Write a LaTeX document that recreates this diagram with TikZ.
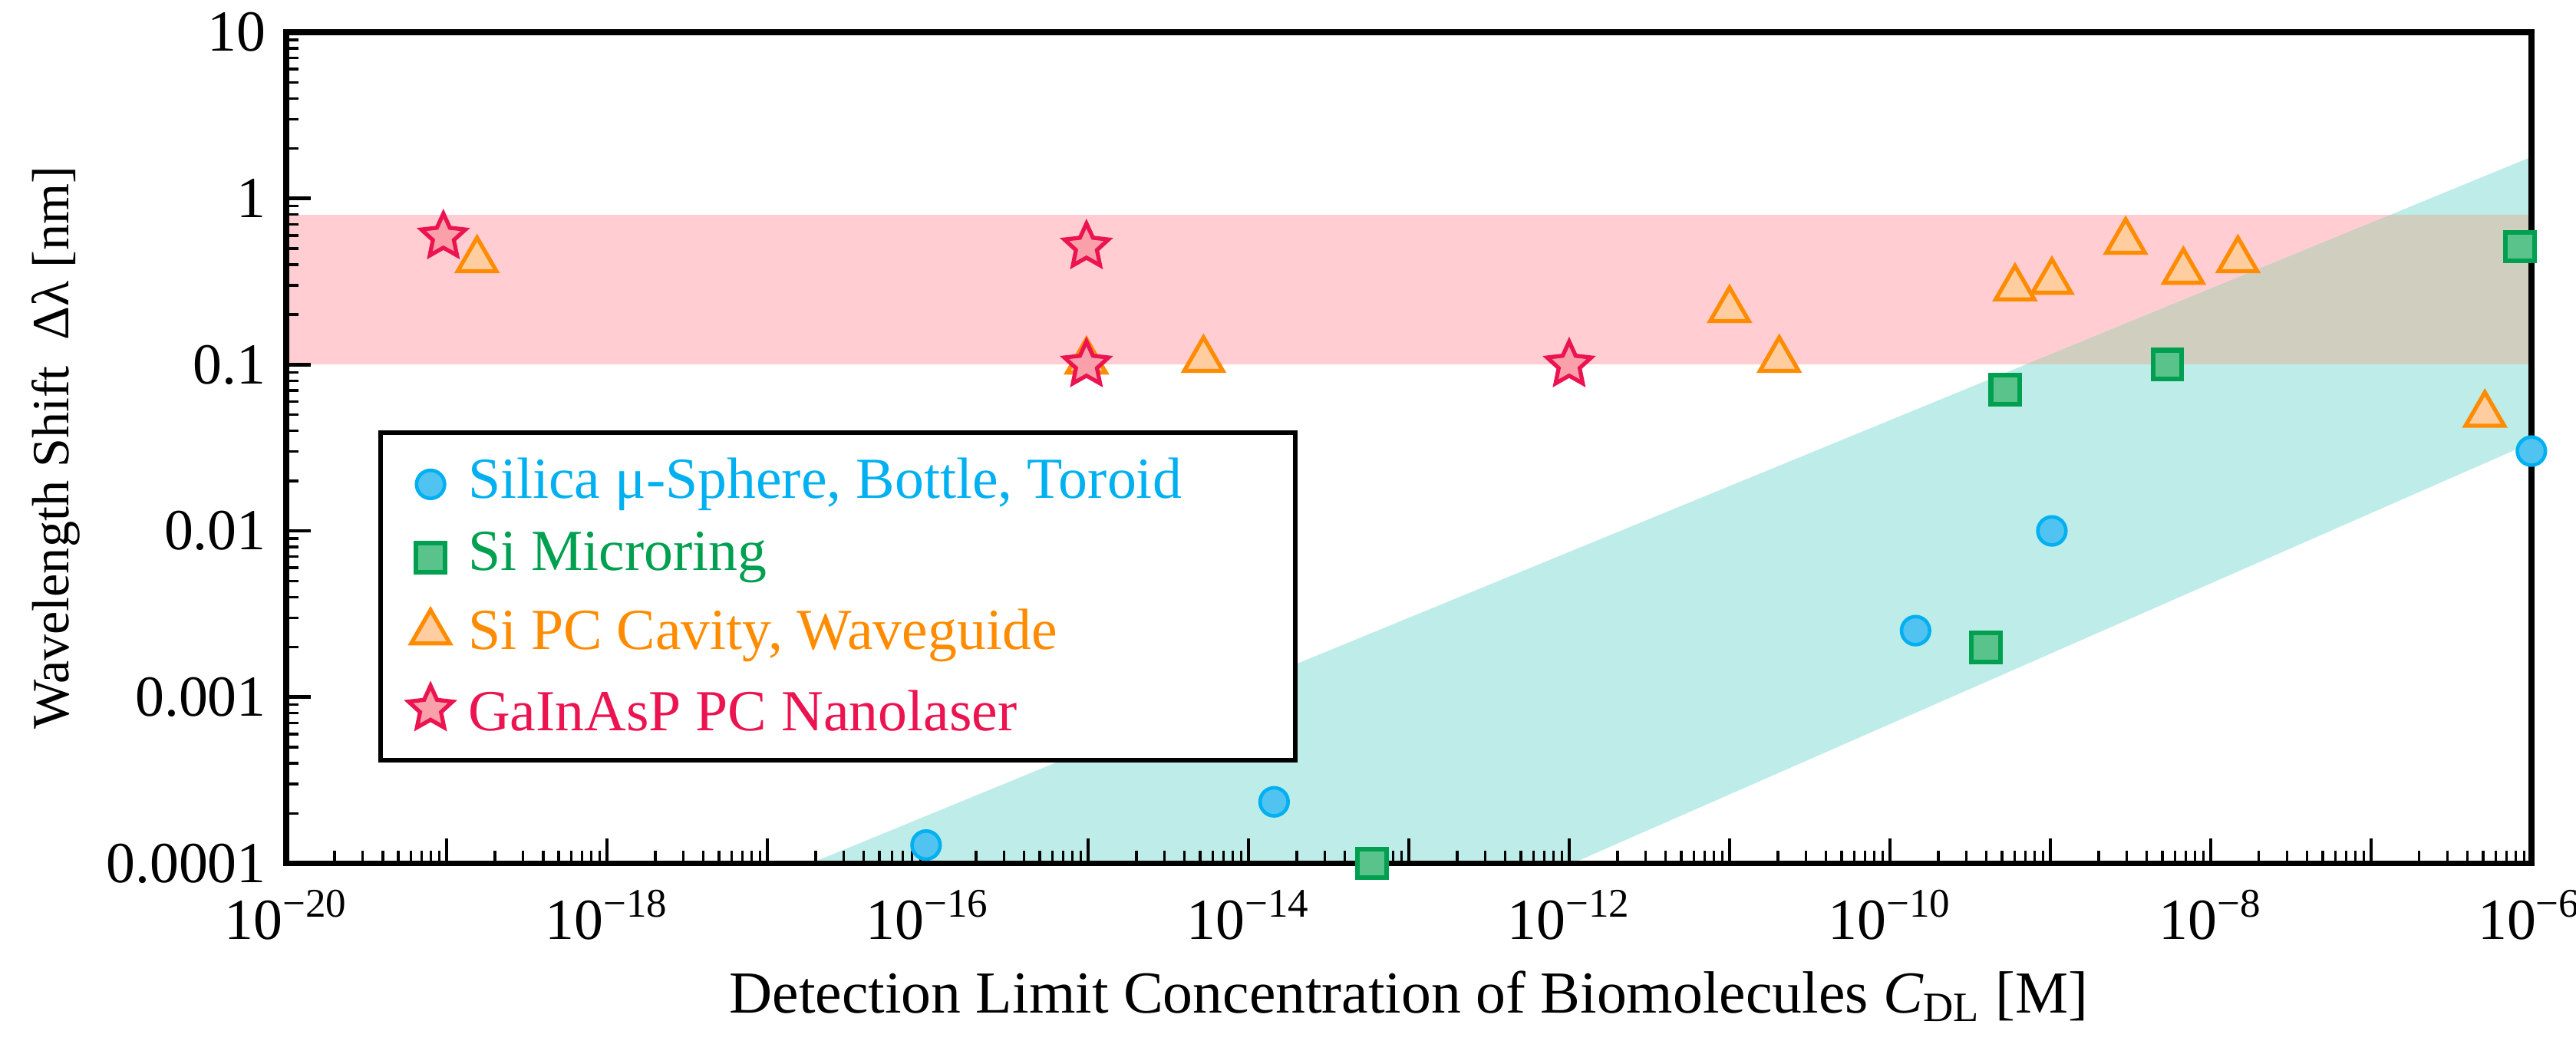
\documentclass[tikz,border=0pt]{standalone}
\usepackage{fontspec}
\setmainfont{Liberation Serif}
\usetikzlibrary{shapes.geometric}
\definecolor{cblue}{RGB}{0,176,240}
\definecolor{cbluef}{RGB}{80,195,240}
\definecolor{cgreen}{RGB}{0,160,80}
\definecolor{cgreenf}{RGB}{90,195,140}
\definecolor{corange}{RGB}{255,140,0}
\definecolor{corangef}{RGB}{255,205,160}
\definecolor{cred}{RGB}{235,20,80}
\definecolor{credf}{RGB}{250,160,170}
\definecolor{pinkband}{RGB}{255,205,210}
\definecolor{tealband}{RGB}{190,236,232}
\definecolor{mixband}{RGB}{208,206,190}
\tikzset{
  circ/.style={circle,draw=cblue,fill=cbluef,line width=1.2pt,minimum size=0.34cm,inner sep=0pt},
  sq/.style={rectangle,draw=cgreen,fill=cgreenf,line width=1.6pt,minimum size=0.35cm,inner sep=0pt},
  tri/.style={regular polygon,regular polygon sides=3,draw=corange,fill=corangef,line width=1.4pt,minimum size=0.54cm,inner sep=0pt},
  st/.style={star,star points=5,star point ratio=2.1,draw=cred,fill=credf,line width=1.4pt,minimum size=0.56cm,inner sep=0pt},
  lab/.style={font=\fontsize{20}{24}\selectfont},
}
\begin{document}
\begin{tikzpicture}[x=1.9386cm,y=2.01cm]
\useasboundingbox (-3.46cm,-2.30cm) rectangle (27.68cm,10.44cm);
% bands
\fill[pinkband] (0,3) rectangle (14,3.903);
\fill[tealband] (3.27,0) -- (14,4.25) -- (14,2.53) -- (8.02,0) -- cycle;
\begin{scope}
\clip (3.27,0) -- (14,4.25) -- (14,2.53) -- (8.02,0) -- cycle;
\fill[mixband] (0,3) rectangle (14,3.903);
\end{scope}
% ticks
\foreach \d in {0,...,13}{
  \draw[line width=1.2pt] (\d,0) -- ++(0,0.3cm);
  \foreach \m in {0.301,0.477,0.602,0.699,0.778,0.845,0.903,0.954}
    \draw[line width=0.9pt] (\d+\m,0) -- ++(0,0.15cm);
}
\foreach \d in {0,...,4}{
  \draw[line width=1.2pt] (0,\d) -- ++(0.3cm,0);
  \foreach \m in {0.301,0.477,0.602,0.699,0.778,0.845,0.903,0.954}
    \draw[line width=0.9pt] (0,\d+\m) -- ++(0.15cm,0);
}
\draw[line width=2pt] (0,0) rectangle (14,5);
% tick labels
\foreach \d/\e in {0/20,2/18,4/16,6/14,8/12,10/10,12/8}
  \node[lab,anchor=north] (xl\e) at (\d,-0.1) {10\textsuperscript{−\e}};
\node[lab,anchor=north east,inner xsep=1pt] (xl6) at (14.33,-0.1) {10\textsuperscript{−6}};
\foreach \d/\t [count=\i] in {0/0.0001,1/0.001,2/0.01,3/0.1,4/1,5/10}
  \node[lab,anchor=east] (yl\i) at (-0.12cm,\d) {\t};
\node[font=\fontsize{20.5}{24}\selectfont] (xlab) at (7,-0.8) {Detection Limit Concentration of Biomolecules \textit{C}\textsubscript{DL} [M]};
\node[font=\fontsize{18}{22}\selectfont,rotate=90] (ylab) at (-2.78cm,2.5) {Wavelength Shift\ \ Δλ [nm]};
% data
\node[circ] (c1) at (3.99,0.11) {};
\node[circ] (c2) at (6.16,0.37) {};
\node[circ] (c3) at (10.16,1.40) {};
\node[circ] (c4) at (11.01,2.0) {};
\node[circ] (c5) at (14.0,2.48) {};
\node[sq] (s1) at (6.77,0) {};
\node[sq] (s2) at (10.6,1.30) {};
\node[sq] (s3) at (10.72,2.85) {};
\node[sq] (s4) at (11.73,3.0) {};
\node[sq] (s5) at (13.93,3.71) {};
\node[tri] (t1) at (1.19,3.63) {};
\node[tri] (t2) at (4.99,3.02) {};
\node[tri] (t3) at (5.72,3.03) {};
\node[tri] (t4) at (9.0,3.33) {};
\node[tri] (t5) at (9.31,3.03) {};
\node[tri] (t6) at (10.78,3.46) {};
\node[tri] (t7) at (11.01,3.50) {};
\node[tri] (t8) at (11.47,3.74) {};
\node[tri] (t9) at (11.83,3.56) {};
\node[tri] (t10) at (12.17,3.63) {};
\node[tri] (t11) at (13.71,2.70) {};
\node[st] (p1) at (0.98,3.77) {};
\node[st] (p2) at (4.99,3.71) {};
\node[st] (p3) at (4.99,3.0) {};
\node[st] (p4) at (8.0,3.0) {};
% legend
\draw[line width=1.6pt,fill=white] (0.59,0.62) rectangle (6.29,2.59);
\node[circ] (lc) at (0.9,2.28) {};
\node[lab,anchor=west,text=cblue] (lct) at (1.07,2.28) {Silica μ-Sphere, Bottle, Toroid};
\node[sq] (ls) at (0.9,1.84) {};
\node[lab,anchor=west,text=cgreen] (lst) at (1.07,1.84) {Si Microring};
\node[tri] (lt) at (0.9,1.39) {};
\node[lab,anchor=west,text=corange] (ltt) at (1.07,1.37) {Si PC Cavity, Waveguide};
\node[st] (lp) at (0.9,0.93) {};
\node[lab,anchor=west,text=cred] (lpt) at (1.07,0.92) {GaInAsP PC Nanolaser};
\end{tikzpicture}
\end{document}
